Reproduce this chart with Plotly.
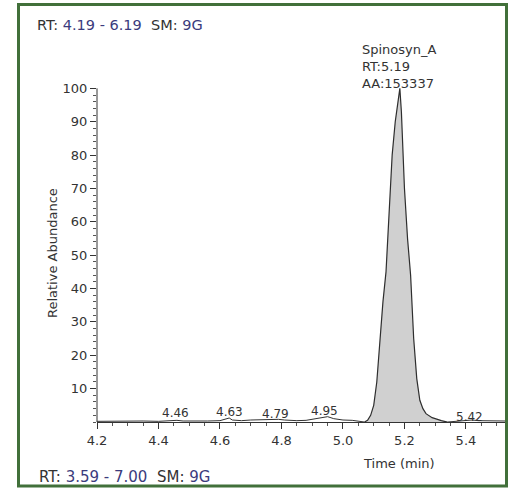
import plotly.graph_objects as go

# ---- data ----
peak_time = [5.07, 5.08, 5.09, 5.10, 5.11, 5.12, 5.13, 5.14, 5.15, 5.16, 5.17, 5.18, 5.185,
             5.19, 5.20, 5.21, 5.22, 5.23, 5.24, 5.25, 5.26, 5.27, 5.28, 5.29, 5.30, 5.31,
             5.32, 5.33, 5.34]
peak_abund = [0, 0.5, 2, 5, 12, 24, 36, 45, 62, 80, 90, 97, 100,
              93, 70, 55, 44, 25, 13, 6.5, 4, 2.5, 1.8, 1.3, 1.0, 0.6,
              0.4, 0.2, 0]

base_time = [4.20, 4.25, 4.30, 4.35, 4.40, 4.44, 4.46, 4.48, 4.52, 4.56, 4.60, 4.62, 4.63,
             4.64, 4.67, 4.70, 4.74, 4.77, 4.79, 4.81, 4.85, 4.88, 4.91, 4.93, 4.95, 4.97,
             5.00, 5.03, 5.07]
base_abund = [0.2, 0.3, 0.2, 0.3, 0.2, 0.3, 0.5, 0.3, 0.2, 0.3, 0.4, 0.8, 1.2,
              0.6, 0.4, 0.6, 0.7, 0.6, 0.8, 0.6, 0.4, 0.5, 0.9, 1.2, 1.6, 1.0,
              0.6, 0.5, 0.0]
tail_time = [5.34, 5.37, 5.40, 5.42, 5.44, 5.47, 5.50, 5.527]
tail_abund = [0.0, 0.3, 0.4, 0.6, 0.4, 0.3, 0.3, 0.3]

peak_labels = ["4.46", "4.63", "4.79", "4.95", "5.42"]
peak_label_x = [4.455, 4.63, 4.78, 4.94, 5.41]
peak_label_y = [2.7, 3.0, 2.4, 3.3, 1.4]

x_ticks = [4.2, 4.4, 4.6, 4.8, 5.0, 5.2, 5.4]
x_ticktext = ["4.2", "4.4", "4.6", "4.8", "5.0", "5.2", "5.4"]
y_ticks = [10, 20, 30, 40, 50, 60, 70, 80, 90, 100]

# ---- layout geometry (pixels) ----
W, H = 512, 489
L, R, T, B = 97, 505, 85, 422


def px(x):
    return (x - L) / (R - L)


def py(y):
    return (B - y) / (B - T)


FONT = "DejaVu Sans"
TXT = "#333333"
NAVY = "#3b3b7d"

fig = go.Figure()
fig.add_trace(go.Scatter(x=base_time, y=base_abund, mode="lines",
                         line=dict(color="#333333", width=1), hoverinfo="skip"))
fig.add_trace(go.Scatter(x=tail_time, y=tail_abund, mode="lines",
                         line=dict(color="#333333", width=1), hoverinfo="skip"))
fig.add_trace(go.Scatter(x=peak_time, y=peak_abund, mode="lines", fill="tozeroy",
                         fillcolor="#d0d0d0", line=dict(color="#2e2e2e", width=1.2),
                         hoverinfo="skip"))

annotations = []
for t, xv, yv in zip(peak_labels, peak_label_x, peak_label_y):
    annotations.append(dict(x=xv, y=yv, xref="x", yref="y", text=t, showarrow=False,
                            xanchor="center", yanchor="middle",
                            font=dict(family=FONT, size=12, color=TXT)))

annotations += [
    dict(x=px(360), y=py(40), xref="paper", yref="paper", showarrow=False,
         xanchor="left", yanchor="top", align="left",
         text="Spinosyn_A<br>RT:5.19<br>AA:153337",
         font=dict(family=FONT, size=13, color=TXT)),
    dict(x=px(35), y=py(25), xref="paper", yref="paper", showarrow=False,
         xanchor="left", yanchor="middle",
         text=f"RT: <span style='color:{NAVY}'>4.19 - 6.19</span>  SM: <span style='color:{NAVY}'>9G</span>",
         font=dict(family=FONT, size=14.5, color=TXT)),
    dict(x=px(37), y=py(477), xref="paper", yref="paper", showarrow=False,
         xanchor="left", yanchor="middle",
         text=f"RT: <span style='color:{NAVY}'>3.59 - 7.00</span>  SM: <span style='color:{NAVY}'>9G</span>",
         font=dict(family=FONT, size=15, color=TXT)),
    dict(x=px(399), y=py(463), xref="paper", yref="paper", showarrow=False,
         xanchor="center", yanchor="middle", text="Time (min)",
         font=dict(family=FONT, size=13, color=TXT)),
    dict(x=px(52), y=py(253), xref="paper", yref="paper", showarrow=False,
         xanchor="center", yanchor="middle", text="Relative Abundance", textangle=-90,
         font=dict(family=FONT, size=13, color=TXT)),
]

fig.update_layout(
    width=W, height=H,
    margin=dict(l=L, r=W - R, t=T, b=H - B, autoexpand=False),
    paper_bgcolor="white", plot_bgcolor="white",
    showlegend=False,
    annotations=annotations,
    shapes=[dict(type="rect", xref="paper", yref="paper",
                 x0=px(18.5), x1=px(506.5), y0=py(486), y1=py(4.5),
                 line=dict(color="#41703a", width=3), fillcolor="rgba(0,0,0,0)",
                 layer="above")],
)
fig.update_xaxes(range=[4.2, 5.527], tickvals=x_ticks, ticktext=x_ticktext,
                 showgrid=False, zeroline=False, showline=True, linecolor="#333333",
                 linewidth=1, ticks="outside", ticklen=6, tickcolor="#333333",
                 tickfont=dict(family=FONT, size=13, color=TXT),
                 minor=dict(dtick=0.05, tick0=4.2, ticks="outside", ticklen=3,
                            tickcolor="#555555", showgrid=False))
fig.update_yaxes(range=[0, 101], tickvals=y_ticks,
                 showgrid=False, zeroline=False, showline=False,
                 ticks="outside", ticklen=6, tickcolor="#333333",
                 tickfont=dict(family=FONT, size=13, color=TXT),
                 minor=dict(dtick=2, tick0=0, ticks="outside", ticklen=3,
                            tickcolor="#555555", showgrid=False))
# y axis line only up to 100
fig.add_shape(type="line", xref="paper", yref="y", x0=0, x1=0, y0=0, y1=100,
              line=dict(color="#333333", width=1))

fig.write_html("out.html", config={"displayModeBar": False},
               post_script="document.body.style.margin='0';document.body.style.overflow='hidden';")
